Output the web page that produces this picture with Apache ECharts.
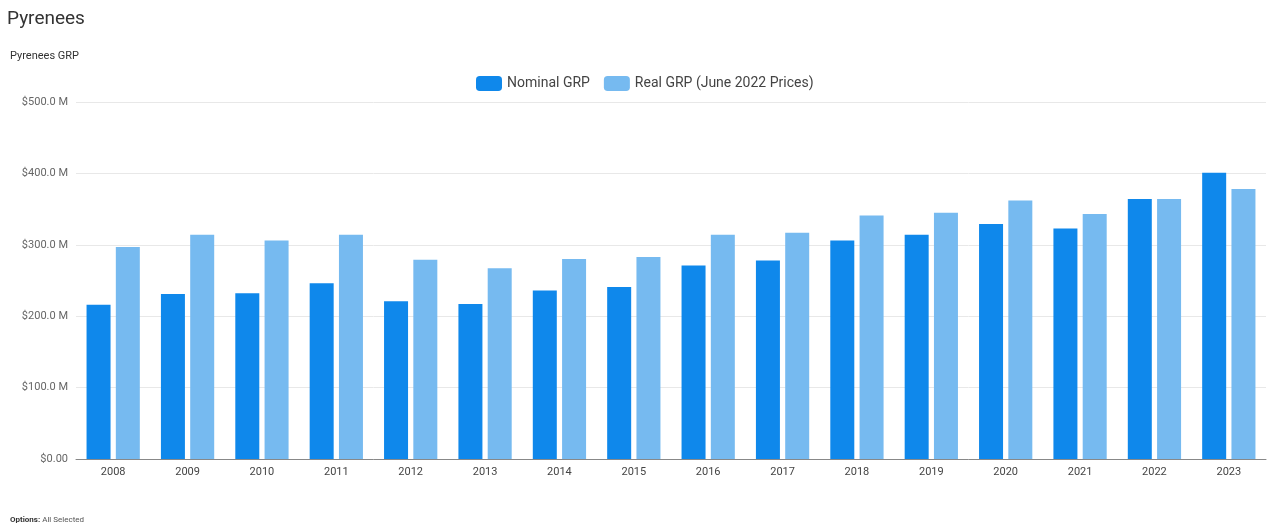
<!DOCTYPE html>
<html>
<head>
<meta charset="utf-8">
<script src="https://cdn.jsdelivr.net/npm/echarts@6/dist/echarts.min.js"></script>
<style>
html,body{margin:0;padding:0;background:#fff;}
#chart{width:1267px;height:529px;}
</style>
</head>
<body>
<div id="chart"></div>
<script>
const years = ['2008','2009','2010','2011','2012','2013','2014','2015','2016','2017','2018','2019','2020','2021','2022','2023'];
const nominalGRP = [216, 231, 232, 246, 221, 217, 236, 241, 271, 278, 306, 314, 329, 323, 364, 401];
const realGRP = [297, 314, 306, 314, 279, 267, 280, 283, 314, 317, 341, 345, 362, 343, 364, 378];
const seriesNames = ['Nominal GRP', 'Real GRP (June 2022 Prices)'];

const chart = echarts.init(document.getElementById('chart'));
chart.setOption({
  animation: false,
  textStyle: { fontFamily: 'Roboto' },
  title: [
    { text: 'Pyrenees', left: 2, top: 5, textStyle: { fontSize: 19, fontWeight: 'normal', color: '#333', fontFamily: 'Roboto' } },
    { text: 'Pyrenees GRP', left: 5, top: 46, textStyle: { fontSize: 11, fontWeight: 'normal', color: '#333', fontFamily: 'Roboto' } },
    { text: '{b|Options:} All Selected', left: 5, top: 511, textStyle: { fontSize: 8, color: '#555', fontWeight: 'normal', rich: { b: { fontSize: 8, fontWeight: 'bold', color: '#333' } } } }
  ],
  legend: {
    data: seriesNames,
    top: 71, left: 471,
    itemWidth: 26, itemHeight: 15, itemGap: 14,
    icon: 'roundRect',
    textStyle: { fontSize: 14, color: '#444' }
  },
  grid: { left: 76, right: 1, top: 102, bottom: 70, containLabel: false },
  xAxis: {
    type: 'category',
    data: years,
    axisLine: { lineStyle: { color: '#888' } },
    axisTick: { alignWithLabel: true, length: 4, lineStyle: { color: '#888' } },
    axisLabel: { fontSize: 11, color: '#444', margin: 8 }
  },
  yAxis: {
    type: 'value',
    min: 0, max: 500, interval: 100,
    axisLine: { show: false },
    axisTick: { show: false },
    splitLine: { lineStyle: { color: '#e8e8e8' } },
    axisLabel: {
      fontSize: 11, color: '#666', margin: 8,
      formatter: v => v === 0 ? '$0.00' : '$' + v.toFixed(1) + ' M'
    }
  },
  series: [
    { name: seriesNames[0], type: 'bar', data: nominalGRP, barWidth: 24, barGap: '22%', itemStyle: { color: '#0F88EB' } },
    { name: seriesNames[1], type: 'bar', data: realGRP, barWidth: 24, itemStyle: { color: '#76BAF0' } }
  ]
});
</script>
</body>
</html>
